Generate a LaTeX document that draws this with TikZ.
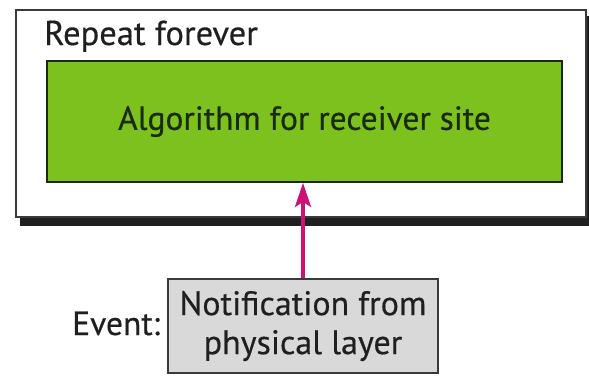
\documentclass[tikz,border=0pt]{standalone}
\usepackage{fontspec}
\setmainfont{PT Sans}[FakeBold=0.4]
\usetikzlibrary{arrows.meta}
\definecolor{algreen}{HTML}{7DC11F}
\definecolor{algtext}{HTML}{1A2A0C}
\definecolor{boxgray}{HTML}{D9D9D9}
\definecolor{arrowmag}{HTML}{CC1177}
\definecolor{frame}{HTML}{3A3A3A}
\tikzset{
  outerbox/.style={draw=frame, line width=1.6pt, fill=white, inner sep=0pt},
  algbox/.style={draw=algtext, line width=1.8pt, fill=algreen, inner sep=0pt, text=algtext,
    font=\fontsize{33.5}{38}\selectfont},
  notifbox/.style={draw=frame, line width=1.4pt, fill=boxgray, inner sep=0pt, align=center,
    text=black!88, font=\fontsize{34}{39}\selectfont},
  label/.style={inner sep=0pt, anchor=base west, text=black!88},
  eventarrow/.style={draw=arrowmag, line width=3.5pt, -{Stealth[length=24pt,width=16pt,inset=5pt]}}
}
\begin{document}
\begin{tikzpicture}[x=1pt,y=1pt]
\useasboundingbox (0,0) rectangle (589,-375);
\fill[black!88] (20,-16) rectangle (592,-226);
\node[outerbox, minimum width=570pt, minimum height=207pt] (outer) at (301,-113.5) {};
\node[label, font=\fontsize{34.5}{40}\selectfont] (repeat) at (44,-45) {Repeat forever};
\node[algbox, minimum width=515pt, minimum height=121pt] (alg) at (304.5,-121.5) {Algorithm for receiver site};
\node[notifbox, minimum width=270pt, minimum height=94pt] (notif) at (303,-326) {Notification from\\physical layer};
\node[label, font=\fontsize{33.5}{38}\selectfont] (event) at (72,-335) {Event:};
\draw[eventarrow] (notif.north -| 303,0) -- (alg.south -| 303,0);
\end{tikzpicture}
\end{document}
